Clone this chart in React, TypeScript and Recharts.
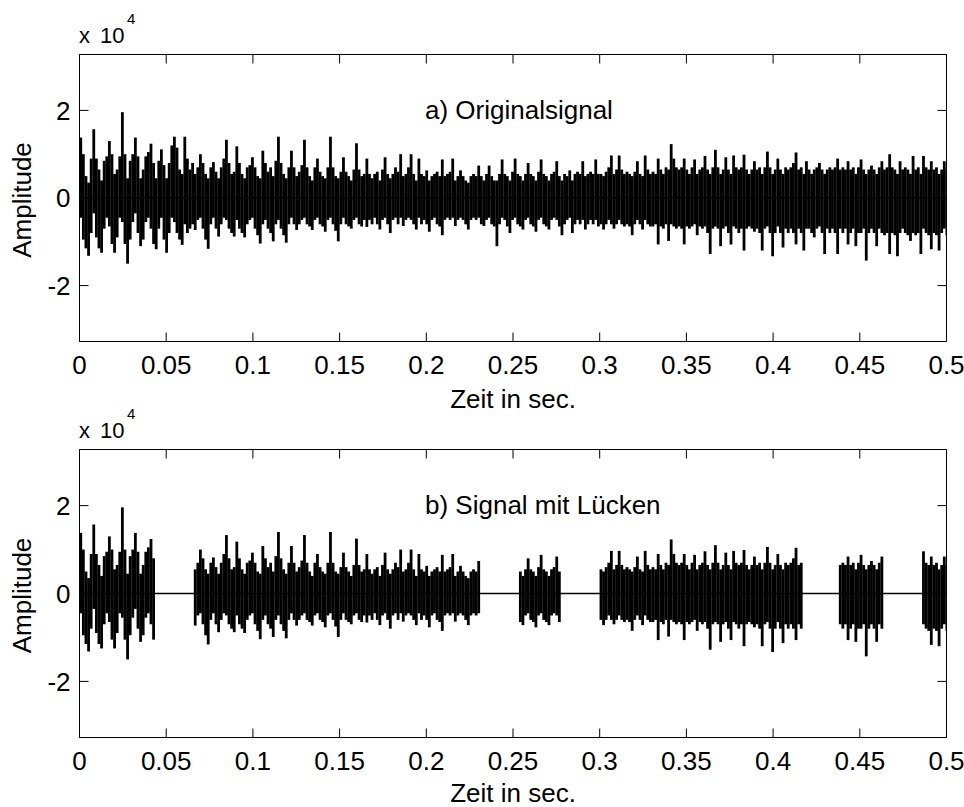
import { ComposedChart, Bar, XAxis, YAxis, ReferenceLine, Label } from "recharts";

const FONT = '"Liberation Sans", Arial, sans-serif';

// one min/max column of the waveform covers this many seconds
const COLUMN_STEP = 0.0015;

const xTicks = [0, 0.05, 0.1, 0.15, 0.2, 0.25, 0.3, 0.35, 0.4, 0.45, 0.5];
const yTicks = [-2, 0, 2];
const Y_LIMIT = 3.2768; // 16 bit full scale, in units of 1e4

// column maxima (x 1e4), read off panel a)
const upper = [
  1.38, 1.0, 0.5, 0.35, 0.9, 1.57, 0.9, 0.65, 0.4, 0.85, 0.95, 1.3, 1.0, 0.55, 0.65, 0.95, 1.96, 1.0, 0.45, 0.85,
  1.0, 1.38, 0.95, 0.45, 0.65, 0.95, 1.05, 1.24, 0.8, 0.45, 0.85, 1.11, 0.75, 0.45, 0.8, 1.2, 1.4, 1.15, 0.65, 0.55,
  1.4, 0.9, 0.65, 0.8, 0.55, 0.7, 1.0, 0.8, 0.55, 0.45, 0.7, 0.82, 0.6, 0.45, 0.7, 0.9, 1.33, 0.8, 0.55, 0.6,
  1.18, 0.8, 0.55, 0.45, 0.7, 0.75, 0.93, 0.7, 0.5, 0.45, 1.08, 0.8, 0.6, 0.7, 0.5, 0.85, 1.4, 0.8, 0.55, 0.45,
  0.7, 1.08, 0.7, 0.5, 0.6, 0.75, 1.33, 0.7, 0.5, 0.4, 0.7, 0.9, 0.6, 0.5, 0.45, 0.7, 1.4, 0.7, 0.5, 0.45,
  0.6, 0.93, 0.6, 0.5, 0.4, 0.65, 1.25, 0.65, 0.5, 0.55, 0.9, 0.55, 0.45, 0.55, 0.6, 0.4, 0.65, 0.93, 0.55, 0.45,
  0.55, 0.7, 0.6, 1.0, 0.5, 0.55, 0.7, 1.0, 0.55, 0.4, 0.9, 0.55, 0.5, 0.63, 0.4, 0.5, 0.55, 0.6, 0.5, 0.88,
  0.5, 0.55, 0.6, 0.9, 0.4, 0.5, 0.63, 0.5, 0.4, 0.35, 0.5, 0.55, 0.5, 0.74, 0.5, 0.4, 0.55, 0.74, 0.5, 0.4,
  0.4, 0.55, 0.88, 0.55, 0.5, 0.4, 0.6, 0.9, 0.55, 0.5, 0.4, 0.55, 0.8, 0.55, 0.5, 0.4, 0.6, 0.88, 0.55, 0.5,
  0.4, 0.55, 0.6, 0.84, 0.5, 0.4, 0.55, 0.5, 0.63, 0.4, 0.55, 0.6, 0.55, 0.84, 0.5, 0.55, 0.6, 0.55, 0.88, 0.55,
  0.55, 0.5, 0.6, 0.7, 0.97, 0.55, 0.65, 0.97, 0.65, 0.55, 0.6, 0.55, 0.5, 0.6, 0.84, 0.55, 0.5, 0.97, 0.65, 0.55,
  0.6, 0.55, 0.9, 0.65, 0.55, 0.7, 0.65, 1.23, 0.9, 0.7, 0.65, 0.7, 0.9, 0.65, 0.55, 0.7, 0.88, 0.55, 0.65, 0.7,
  0.96, 0.65, 0.55, 0.7, 1.1, 0.7, 0.55, 0.65, 0.93, 0.65, 0.55, 0.97, 0.7, 0.65, 0.7, 0.99, 0.65, 0.55, 0.65, 0.84,
  0.65, 0.7, 0.55, 0.7, 1.06, 0.7, 0.55, 0.65, 0.9, 0.65, 0.55, 0.7, 0.65, 0.7, 0.8, 1.04, 0.65, 0.7, 0.55, 0.84,
  0.65, 0.55, 0.65, 0.7, 0.8, 0.65, 0.55, 0.65, 0.7, 0.65, 0.7, 0.9, 0.65, 0.7, 0.65, 0.84, 0.65, 0.7, 0.55, 0.7,
  0.88, 0.65, 0.55, 0.65, 0.74, 0.65, 0.55, 0.7, 0.84, 0.65, 0.7, 1.0, 0.7, 0.65, 0.55, 0.84, 0.65, 0.7, 0.65, 0.55,
  0.96, 0.65, 0.7, 0.55, 0.96, 0.7, 0.65, 0.84, 0.65, 0.7, 0.55, 0.65, 0.84, 0.65,
];

// column minima (x 1e4)
const lower = [
  -0.45, -0.95, -1.15, -1.32, -0.8, -0.35, -0.9, -1.15, -1.25, -0.7, -0.45, -0.65, -1.05, -1.25, -0.9, -0.45, -0.55, -1.05, -1.5, -0.95,
  -0.55, -0.35, -0.8, -1.1, -0.95, -0.55, -0.45, -0.7, -1.05, -1.17, -0.7, -0.45, -0.95, -1.25, -0.8, -0.45, -0.55, -0.8, -0.95, -1.07,
  -0.6, -0.8, -0.7, -0.6, -0.73, -0.5, -0.45, -0.7, -0.95, -1.16, -0.6, -0.45, -0.7, -0.88, -0.6, -0.45, -0.5, -0.7, -0.8, -0.88,
  -0.5, -0.7, -0.8, -0.9, -0.6, -0.5, -0.45, -0.7, -0.85, -1.04, -0.6, -0.5, -0.7, -0.8, -0.99, -0.6, -0.5, -0.7, -0.85, -1.02,
  -0.6, -0.45, -0.6, -0.73, -0.6, -0.5, -0.45, -0.6, -0.65, -0.73, -0.5, -0.45, -0.6, -0.65, -0.77, -0.5, -0.45, -0.6, -0.75, -0.99,
  -0.6, -0.45, -0.6, -0.65, -0.7, -0.5, -0.45, -0.6, -0.65, -0.5, -0.66, -0.5, -0.6, -0.45, -0.6, -0.72, -0.5, -0.45, -0.6, -0.8,
  -0.5, -0.45, -0.6, -0.45, -0.64, -0.5, -0.45, -0.5, -0.6, -0.72, -0.45, -0.6, -0.5, -0.6, -0.77, -0.5, -0.45, -0.6, -0.65, -0.85,
  -0.5, -0.45, -0.5, -0.45, -0.64, -0.5, -0.45, -0.5, -0.6, -0.72, -0.5, -0.45, -0.5, -0.45, -0.6, -0.64, -0.5, -0.45, -0.6, -0.65,
  -1.1, -0.6, -0.45, -0.5, -0.65, -0.8, -0.5, -0.45, -0.6, -0.65, -0.72, -0.5, -0.45, -0.6, -0.65, -0.77, -0.5, -0.45, -0.6, -0.65,
  -0.72, -0.5, -0.45, -0.5, -0.65, -0.85, -0.6, -0.5, -0.45, -0.8, -0.6, -0.5, -0.6, -0.5, -0.72, -0.6, -0.5, -0.6, -0.5, -0.65,
  -0.6, -0.72, -0.6, -0.5, -0.6, -0.7, -0.6, -0.5, -0.6, -0.65, -0.6, -0.65, -0.85, -0.6, -0.5, -0.6, -0.72, -0.5, -0.6, -0.65,
  -0.65, -0.6, -1.06, -0.65, -0.7, -0.6, -0.98, -0.6, -0.65, -0.7, -0.65, -0.7, -1.06, -0.65, -0.7, -0.65, -0.6, -0.85, -0.65, -0.7,
  -0.65, -0.8, -1.28, -0.7, -0.65, -0.7, -1.1, -0.7, -0.65, -0.8, -1.06, -0.65, -0.7, -0.8, -0.7, -1.2, -0.7, -0.65, -0.7, -0.77,
  -0.7, -0.8, -1.2, -0.7, -0.65, -0.8, -1.33, -0.8, -0.65, -0.8, -1.13, -0.7, -0.8, -0.7, -0.8, -1.06, -0.7, -0.8, -1.2, -0.7,
  -0.7, -0.8, -0.9, -0.7, -0.65, -0.8, -1.28, -0.7, -0.8, -0.7, -0.8, -1.28, -0.7, -0.8, -0.7, -1.06, -0.8, -0.7, -1.1, -0.8,
  -0.8, -0.7, -1.43, -0.8, -0.7, -0.8, -1.1, -0.7, -0.8, -0.85, -0.8, -1.28, -0.8, -0.85, -1.33, -0.8, -0.7, -0.8, -0.85, -0.98,
  -0.8, -0.85, -0.8, -1.28, -0.7, -0.8, -0.85, -1.17, -0.8, -0.85, -1.2, -0.8, -0.7, -0.85,
];

// dropped blocks in panel b), seconds
const gapStart = [0.044, 0.2306, 0.277, 0.4168, 0.463];
const gapEnd = [0.0665, 0.253, 0.2994, 0.4387, 0.4855];

type Row = { t: number; range: [number, number] };

const original: Row[] = upper.map((hi, i) => ({
  t: (i + 0.5) * COLUMN_STEP,
  range: [lower[i], hi],
}));

const inGap = (t: number) => gapStart.some((s, i) => t >= s && t <= gapEnd[i]);

const withGaps: Row[] = original.map(r => (inGap(r.t) ? { t: r.t, range: [0, 0] } : r));

// plot box in page pixels
const PLOT_LEFT = 79.5;
const PLOT_RIGHT = 946.5;
const Y_AXIS_W = 60;
const X_AXIS_H = 30;
const TICK_LEN = 9;
const W = 964;

function Column(props: any) {
  const { x, y, width, height } = props;
  if (x == null || y == null || !height) return null;
  const cx = x + width / 2;
  return (
    <rect
      x={cx - 1.4}
      y={Math.min(y, y + height)}
      width={2.8}
      height={Math.abs(height)}
      fill="#000"
    />
  );
}

const axisStroke = { stroke: "#000", strokeWidth: 1 };

function Panel({ top, height, plotTop, plotH, labelOffset, data, title }: {
  top: number;
  height: number;
  plotTop: number;
  plotH: number;
  labelOffset: number;
  data: Row[];
  title: string;
}) {
  const plotBottom = plotTop + plotH;
  const marginBottom = height - plotTop - plotH - X_AXIS_H;

  // label below the axis, MATLAB style inward ticks on bottom and top edge
  const XTick = ({ x, y, payload }: any) => (
    <g>
      <text x={x} y={y} dy="0.71em" textAnchor="middle" fill="#000" fontSize={26} fontFamily={FONT}>
        {payload.value}
      </text>
      <line x1={x} x2={x} y1={plotBottom} y2={plotBottom - TICK_LEN} stroke="#000" />
      <line x1={x} x2={x} y1={plotTop} y2={plotTop + TICK_LEN} stroke="#000" />
    </g>
  );

  const YTick = ({ x, y, payload }: any) => (
    <g>
      <text x={x} y={y} dy="0.355em" textAnchor="end" fill="#000" fontSize={26} fontFamily={FONT}>
        {payload.value}
      </text>
      <line x1={PLOT_LEFT} x2={PLOT_LEFT + TICK_LEN} y1={y} y2={y} stroke="#000" />
      <line x1={PLOT_RIGHT} x2={PLOT_RIGHT - TICK_LEN} y1={y} y2={y} stroke="#000" />
    </g>
  );

  return (
    <div style={{ position: "absolute", left: 0, top, width: W, height }}>
      <ComposedChart
        width={W}
        height={height}
        data={data}
        margin={{ top: plotTop, right: W - PLOT_RIGHT, bottom: marginBottom, left: PLOT_LEFT - Y_AXIS_W }}
      >
        <XAxis
          xAxisId="main"
          dataKey="t"
          type="number"
          domain={[0, 0.5]}
          allowDataOverflow
          ticks={xTicks}
          interval={0}
          height={X_AXIS_H}
          tickLine={false}
          tickSize={0}
          tickMargin={14}
          axisLine={axisStroke}
          tick={<XTick />}
        >
          <Label value="Zeit in sec." position="bottom" offset={labelOffset} fill="#000" fontSize={26} fontFamily={FONT} />
        </XAxis>
        {/* top edge of the box */}
        <XAxis
          xAxisId="top"
          orientation="top"
          dataKey="t"
          type="number"
          domain={[0, 0.5]}
          allowDataOverflow
          mirror
          tick={false}
          tickLine={false}
          axisLine={axisStroke}
        />
        <YAxis
          yAxisId="main"
          type="number"
          domain={[-Y_LIMIT, Y_LIMIT]}
          allowDataOverflow
          ticks={yTicks}
          interval={0}
          width={Y_AXIS_W}
          tickLine={false}
          tickSize={0}
          tickMargin={9}
          axisLine={axisStroke}
          tick={<YTick />}
        >
          <Label
            content={({ viewBox }: any) => {
              const cy = viewBox.y + viewBox.height / 2 + 2;
              return (
                <text
                  x={31}
                  y={cy}
                  transform={`rotate(-90 31 ${cy})`}
                  textAnchor="middle"
                  fontSize={26}
                  fontFamily={FONT}
                  fill="#000"
                >
                  Amplitude
                </text>
              );
            }}
          />
        </YAxis>
        {/* right edge of the box */}
        <YAxis
          yAxisId="right"
          orientation="right"
          type="number"
          domain={[-Y_LIMIT, Y_LIMIT]}
          allowDataOverflow
          mirror
          tick={false}
          tickLine={false}
          axisLine={axisStroke}
        />
        <ReferenceLine xAxisId="main" yAxisId="main" y={0} stroke="#000" strokeWidth={1.3} />
        <Bar
          xAxisId="main"
          yAxisId="main"
          dataKey="range"
          shape={<Column />}
          isAnimationActive={false}
        />
      </ComposedChart>
      <svg
        width={W}
        height={height}
        style={{ position: "absolute", left: 0, top: 0, overflow: "visible", pointerEvents: "none" }}
        fontFamily={FONT}
        fill="#000"
      >
        <text x={79} y={plotTop - 12} fontSize={22}>x</text>
        <text x={100} y={plotTop - 12} fontSize={22}>10</text>
        <text x={127} y={plotTop - 31} fontSize={15}>4</text>
        <text x={425} y={plotTop + 64} fontSize={26}>{title}</text>
      </svg>
    </div>
  );
}

export default function App() {
  return (
    <div style={{ position: "absolute", left: 0, top: 0, width: W, height: 807, background: "#fff", fontFamily: FONT }}>
      <Panel top={0} height={420} plotTop={54.5} plotH={287} labelOffset={18} data={original} title="a) Originalsignal" />
      <Panel top={412} height={395} plotTop={37.5} plotH={288} labelOffset={16.5} data={withGaps} title="b) Signal mit Lücken" />
    </div>
  );
}
